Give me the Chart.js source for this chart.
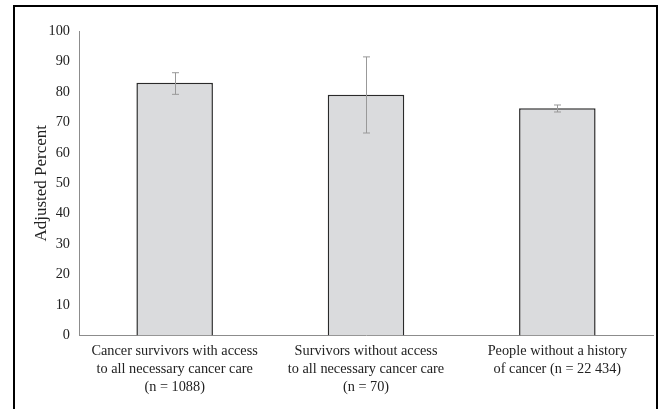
<!DOCTYPE html>
<html>
<head>
<meta charset="utf-8">
<script src="https://cdn.jsdelivr.net/npm/chart.js@4/dist/chart.umd.min.js"></script>
<style>
  html, body { margin: 0; padding: 0; background: #fff; }
  #wrap { position: relative; width: 659px; height: 409px; }
  #frame { position: absolute; left: 13px; top: 5px; width: 641px; height: 410px;
           border: 2px solid #000; border-bottom: none; }
  canvas { position: absolute; left: 0; top: 0; }
</style>
</head>
<body>
<div id="wrap">
  <div id="frame"></div>
  <canvas id="chart" width="659" height="409"></canvas>
</div>
<script>
// Categories (multi-line axis labels)
const categories = [
    ["Cancer survivors with access", "to all necessary cancer care", "(n = 1088)"],
    ["Survivors without access", "to all necessary cancer care", "(n = 70)"],
    ["People without a history", "of cancer (n = 22 434)"]
]
// Adjusted percent and error bar limits
const values = [83.0, 79.1, 74.6]
const errLow = [79.2, 66.5, 73.4]
const errHigh = [86.3, 91.5, 75.7]

const serif = "'Liberation Serif', 'Times New Roman', serif"
const axisGray = '#8c8c8c'

const errorBars = {
    id: 'errorBars',
    afterDatasetsDraw(chart) {
        const { ctx } = chart
        const y = chart.scales.y
        const meta = chart.getDatasetMeta(0)
        ctx.save()
        ctx.strokeStyle = '#999'
        ctx.lineWidth = 1
        meta.data.forEach((bar, i) => {
            const x = Math.round(bar.x) + 0.5
            const top = y.getPixelForValue(errHigh[i])
            const bottom = y.getPixelForValue(errLow[i])
            ctx.beginPath()
            ctx.moveTo(x, top)
            ctx.lineTo(x, bottom)
            ctx.moveTo(x - 3.5, top)
            ctx.lineTo(x + 3.5, top)
            ctx.moveTo(x - 3.5, bottom)
            ctx.lineTo(x + 3.5, bottom)
            ctx.stroke()
        })
        ctx.restore()
    }
}

new Chart(document.getElementById('chart'), {
    type: 'bar',
    data: {
        labels: categories,
        datasets: [{
            data: values,
            backgroundColor: '#dadbdd',
            borderColor: '#2a2a2a',
            borderWidth: 1.5,
            categoryPercentage: 1,
            barPercentage: 0.4
        }]
    },
    options: {
        responsive: false,
        animation: false,
        layout: { padding: { left: 0, right: 6, top: 31, bottom: 0 } },
        plugins: {
            legend: { display: false },
            tooltip: { enabled: false }
        },
        scales: {
            x: {
                grid: { display: false, drawTicks: false },
                border: { display: true, color: axisGray, width: 1 },
                ticks: {
                    color: '#222',
                    padding: 7.4,
                    maxRotation: 0,
                    autoSkip: false,
                    font: { family: serif, size: 14.3, lineHeight: 1.23 }
                },
                afterFit(scale) { scale.height = 73.5 }
            },
            y: {
                min: 0,
                max: 100,
                grid: { display: false, drawTicks: false },
                border: { display: true, color: axisGray, width: 1 },
                ticks: {
                    stepSize: 10,
                    color: '#222',
                    padding: 9,
                    font: { family: serif, size: 14.3 }
                },
                title: {
                    display: true,
                    text: 'Adjusted Percent',
                    color: '#222',
                    padding: { top: 31, bottom: 0 },
                    font: { family: serif, size: 17 }
                },
                afterFit(scale) { scale.width = 79 }
            }
        }
    },
    plugins: [errorBars]
})
</script>
</body>
</html>
